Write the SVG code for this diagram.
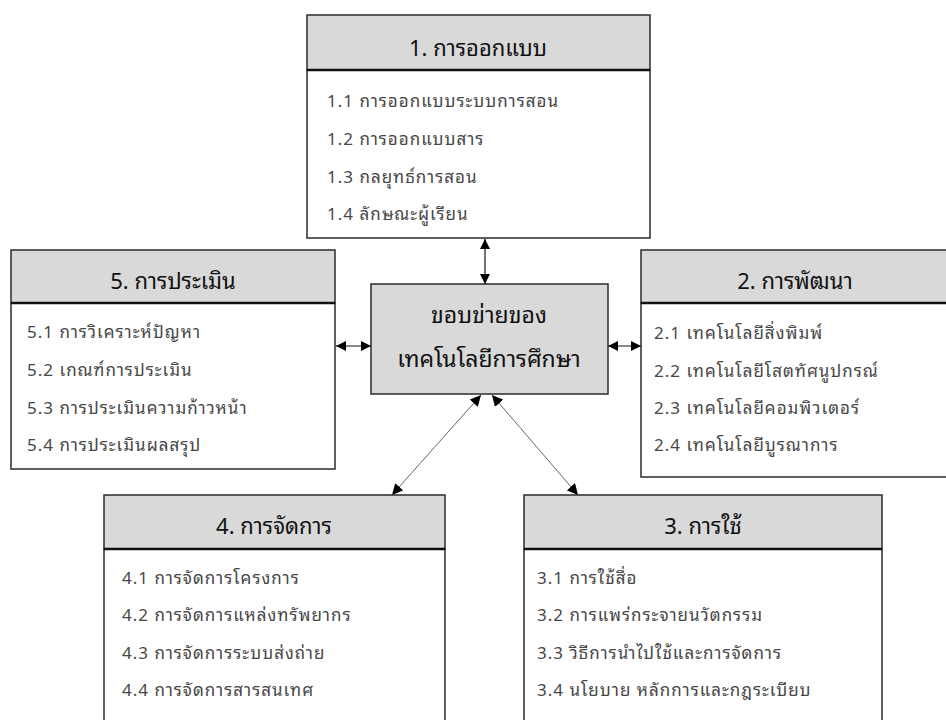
<svg xmlns="http://www.w3.org/2000/svg" width="946" height="720" viewBox="0 0 946 720">
<style>
.hd{fill:#d9d9d9;stroke:#2b2b2b;stroke-width:1.5}
.bd{fill:#ffffff;stroke:#2b2b2b;stroke-width:1.5}
.sep{stroke:#111;stroke-width:2.5}
.ht{font-family:"Noto Sans Thai Looped","Noto Sans Thai","Noto Sans",Tahoma,sans-serif;font-size:22px;fill:#111;text-anchor:middle}
.it{font-family:"Noto Sans Thai Looped","Noto Sans Thai","Noto Sans",Tahoma,sans-serif;font-size:17px;letter-spacing:1px;fill:#474747}
.ct{font-family:"Noto Sans Thai Looped","Noto Sans Thai","Noto Sans",Tahoma,sans-serif;font-size:23px;fill:#111;text-anchor:middle}
.cn{stroke:#111;stroke-width:1.2;fill:none;marker-start:url(#ah);marker-end:url(#ah)}
.cd{stroke:#666;stroke-width:1;fill:none;marker-start:url(#ah2);marker-end:url(#ah2)}
</style>
<defs>
<marker id="ah" viewBox="0 0 10 10" refX="10" refY="5" markerWidth="10" markerHeight="10" markerUnits="userSpaceOnUse" orient="auto-start-reverse"><path d="M0,0 L10,5 L0,10 Z" fill="#000"/></marker>
<marker id="ah2" viewBox="0 0 10 10" refX="10" refY="5" markerWidth="11" markerHeight="11" markerUnits="userSpaceOnUse" orient="auto-start-reverse"><path d="M0,0 L10,5 L0,10 Z" fill="#000"/></marker>
</defs>
<rect width="946" height="720" fill="#fff"/>
<g id="connectors">
<line class="cn" x1="485" y1="239" x2="485" y2="284"/>
<line class="cn" x1="336" y1="346" x2="371" y2="346"/>
<line class="cn" x1="608" y1="346" x2="641" y2="346"/>
<line class="cd" x1="481" y1="395" x2="392" y2="495"/>
<line class="cd" x1="492" y1="395" x2="578" y2="495"/>
</g>
<g id="node1">
<rect class="bd" x="307" y="70" width="343" height="168"/>
<rect class="hd" x="307" y="15" width="343" height="55"/>
<line class="sep" x1="307" y1="70" x2="650" y2="70"/>
<text class="ht" x="478" y="56">1. การออกแบบ</text>
<text class="it" x="327" y="107">1.1 การออกแบบระบบการสอน</text>
<text class="it" x="327" y="145">1.2 การออกแบบสาร</text>
<text class="it" x="327" y="183">1.3 กลยุทธ์การสอน</text>
<text class="it" x="327" y="220">1.4 ลักษณะผู้เรียน</text>
</g>
<g id="center">
<rect class="hd" x="371" y="284" width="237" height="110"/>
<text class="ct" x="489" y="323">ขอบข่ายของ</text>
<text class="ct" x="489" y="367">เทคโนโลยีการศึกษา</text>
</g>
<g id="node5">
<rect class="bd" x="11" y="303" width="324" height="166"/>
<rect class="hd" x="11" y="250" width="324" height="53"/>
<line class="sep" x1="11" y1="303" x2="335" y2="303"/>
<text class="ht" x="173" y="289">5. การประเมิน</text>
<text class="it" x="27" y="338">5.1 การวิเคราะห์ปัญหา</text>
<text class="it" x="27" y="376">5.2 เกณฑ์การประเมิน</text>
<text class="it" x="27" y="414">5.3 การประเมินความก้าวหน้า</text>
<text class="it" x="27" y="451">5.4 การประเมินผลสรุป</text>
</g>
<g id="node2">
<rect class="bd" x="641" y="303" width="320" height="174"/>
<rect class="hd" x="641" y="250" width="320" height="53"/>
<line class="sep" x1="641" y1="303" x2="961" y2="303"/>
<text class="ht" x="795" y="289">2. การพัฒนา</text>
<text class="it" x="654" y="339">2.1 เทคโนโลยีสิ่งพิมพ์</text>
<text class="it" x="654" y="377">2.2 เทคโนโลยีโสตทัศนูปกรณ์</text>
<text class="it" x="654" y="414">2.3 เทคโนโลยีคอมพิวเตอร์</text>
<text class="it" x="654" y="451">2.4 เทคโนโลยีบูรณาการ</text>
</g>
<g id="node4">
<rect class="bd" x="104" y="549" width="341" height="190"/>
<rect class="hd" x="104" y="495" width="341" height="54"/>
<line class="sep" x1="104" y1="549" x2="445" y2="549"/>
<text class="ht" x="274" y="534">4. การจัดการ</text>
<text class="it" x="122" y="584">4.1 การจัดการโครงการ</text>
<text class="it" x="122" y="621">4.2 การจัดการแหล่งทรัพยากร</text>
<text class="it" x="122" y="659">4.3 การจัดการระบบส่งถ่าย</text>
<text class="it" x="122" y="696">4.4 การจัดการสารสนเทศ</text>
</g>
<g id="node3">
<rect class="bd" x="524" y="549" width="358" height="190"/>
<rect class="hd" x="524" y="495" width="358" height="54"/>
<line class="sep" x1="524" y1="549" x2="882" y2="549"/>
<text class="ht" x="703" y="534">3. การใช้</text>
<text class="it" x="537" y="584">3.1 การใช้สื่อ</text>
<text class="it" x="537" y="621">3.2 การแพร่กระจายนวัตกรรม</text>
<text class="it" x="537" y="659">3.3 วิธีการนำไปใช้และการจัดการ</text>
<text class="it" x="537" y="696">3.4 นโยบาย หลักการและกฎระเบียบ</text>
</g>
</svg>
